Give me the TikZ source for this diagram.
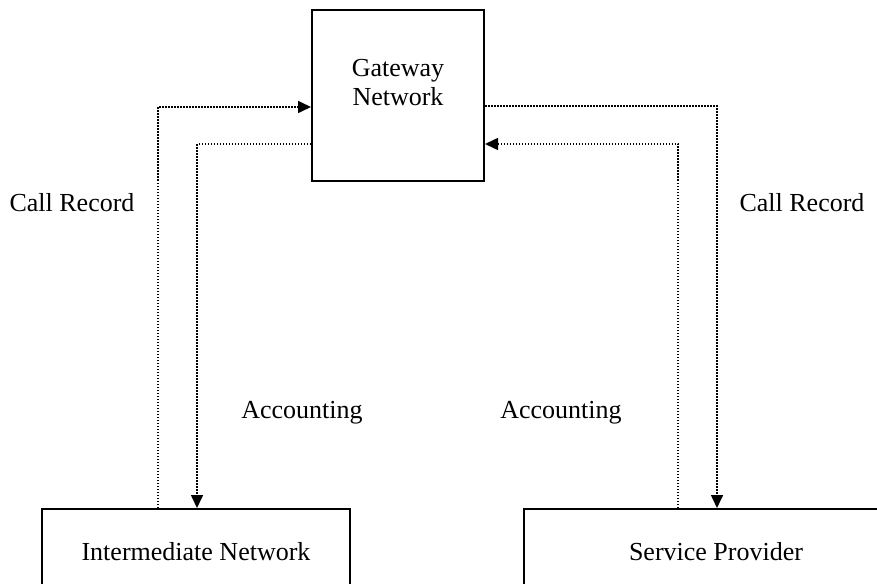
\documentclass[tikz,border=0pt]{standalone}
\usepackage{fontspec}
\setmainfont{Liberation Serif}
\usepackage{tikz}
\usetikzlibrary{arrows.meta, positioning}
\tikzset{>={Triangle[length=6.5pt,width=6pt]}}

\begin{document}
\begin{tikzpicture}[x=0.5pt, y=-0.5pt,
                line join=miter,
                netbox/.style={draw, line width=1pt, inner sep=0pt},
                flow/.style={line width=0.8pt, dash pattern=on 0.75pt off 0.75pt},
                lbl/.style={inner sep=0pt, font=\fontsize{13}{14.5}\selectfont}]
                \useasboundingbox (0,0) rectangle (877,583);
                \clip (0,0) rectangle (877,583);

                % the three networks
                \node[netbox, minimum width=86pt, minimum height=85.5pt] (gw) at (398,95.5) {};
                \node[lbl, align=center] (gwtext) at (398,83) {Gateway\\Network};
                \node[netbox, minimum width=154pt, minimum height=43pt, lbl] (inter) at (196,552) {Intermediate Network};
                \node[netbox, minimum width=192pt, minimum height=43pt, lbl] (prov) at (716,552) {Service Provider};

                % corners of the dotted paths
                \coordinate (lout) at (158,107);
                \coordinate (lin)  at (197,144);
                \coordinate (rout) at (717,106);
                \coordinate (rin)  at (678,144);

                % call records go up, accounting comes back down
                \draw[flow,->] (inter.north -| lout) |- (gw.west |- lout);
                \draw[flow,->] (gw.west |- lin) -| (inter.north -| lin);
                \draw[flow,->] (gw.east |- rout) -| (prov.north -| rout);
                \draw[flow,->] (prov.north -| rin) |- (gw.east |- rin);

                % labels
                \node[lbl] (recl) at (72,203) {Call Record};
                \node[lbl] (recr) at (802,203) {Call Record};
                \node[lbl] (accl) at (302,413) {Accounting};
                \node[lbl] (accr) at (561,413) {Accounting};
            \end{tikzpicture}
\end{document}
